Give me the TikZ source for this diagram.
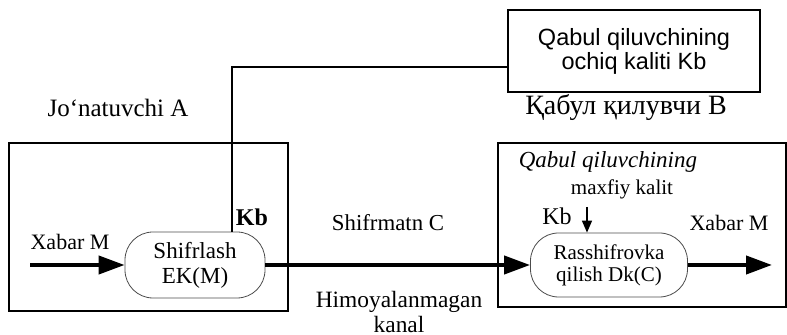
\documentclass[tikz,border=0pt]{standalone}
\usepackage{fontspec}
\setmainfont{Liberation Serif}
\setsansfont{Liberation Sans}
\usetikzlibrary{arrows.meta}

\begin{document}
\begin{tikzpicture}[x=0.5pt,y=0.5pt,
  box/.style={draw=black,line width=0.75pt},
  proc/.style={draw=black!70,line width=0.4pt,rounded corners=14pt,align=center,inner sep=0pt},
  txt/.style={inner sep=0pt,align=center},
  flow/.style={line width=2pt,-{Triangle[length=13pt,width=9pt]}}]
\useasboundingbox (0,0) rectangle (787,-335);
\draw [box] (9,-143) rectangle (288,-311);
\draw [box] (498,-143) rectangle (786,-307);
\node (key) [box,align=center,font=\sffamily\fontsize{11.75}{10.5}\selectfont,minimum width=126pt,minimum height=41pt] at (634,-51) {Qabul qiluvchining\\ochiq kaliti Kb};
\node (enc) [proc,minimum width=70pt,minimum height=33pt,font=\fontsize{11.5}{12.5}\selectfont] at (195,-265) {Shifrlash\\EK(M)};
\node (dec) [proc,minimum width=78.5pt,minimum height=32pt,font=\fontsize{10.5}{11}\selectfont] at (609,-265) {Rasshifrovka\\qilish Dk(C)};
\node (sender) [txt,font=\fontsize{12.5}{15}\selectfont] at (118,-108) {Jo‘natuvchi A};
\node (receiver) [txt,font=\fontsize{14}{16}\selectfont] at (626,-108) {Қабул қилувчи В};
\node (msgin) [txt,font=\fontsize{11}{13}\selectfont] at (70,-242) {Xabar M};
\node (kbA) [txt,font=\bfseries\fontsize{12}{14}\selectfont] at (252,-217) {Kb};
\node (cipher) [txt,font=\fontsize{11.4}{13}\selectfont] at (388,-223) {Shifrmatn C};
\node (channel) [txt,font=\fontsize{11.7}{12.5}\selectfont] at (399,-312) {Himoyalanmagan\\kanal};
\node (privkey) [txt,font=\itshape\fontsize{11.5}{13}\selectfont] at (608,-162) {Qabul qiluvchining};
\node (privname) [txt,font=\fontsize{10.5}{12}\selectfont] at (622,-189) {maxfiy kalit};
\node (kbB) [txt,font=\fontsize{12}{14}\selectfont] at (557,-216) {Kb};
\node (msgout) [txt,font=\fontsize{11}{13}\selectfont] at (729,-223) {Xabar M};
\coordinate (inA) at (30,-265);
\coordinate (outB) at (772,-265);
\coordinate (kbturn) at (232,-67);
\coordinate (kbdrop) at (587,-207);
\draw [flow] (inA) -- (enc.west);
\draw [flow] (enc.east) -- (dec.west);
\draw [flow] (dec.east) -- (outB);
\draw [line width=0.75pt] (key.west |- kbturn) -| (enc.north -| kbturn);
\draw [line width=0.75pt,-{Triangle[length=6pt,width=5pt]}] (kbdrop) -- (kbdrop |- dec.north);
\end{tikzpicture}
\end{document}
